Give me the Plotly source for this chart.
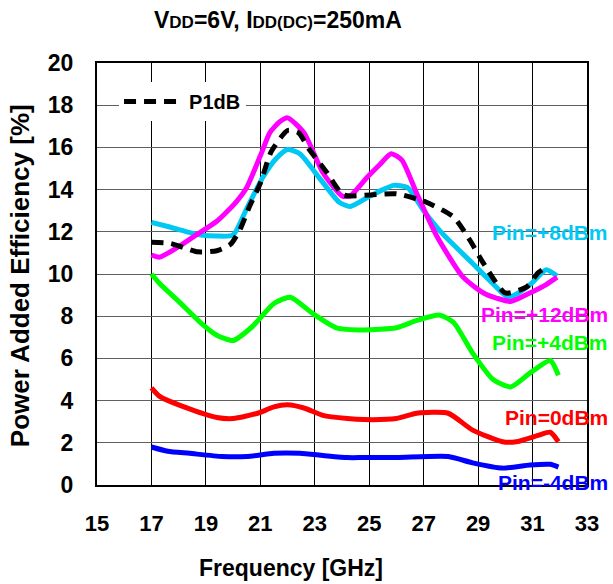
import plotly.graph_objects as go

# ---- data ----
freq_p8 = [17.0, 17.6, 18.3, 18.8, 19.4, 20.0, 20.5, 21.1, 21.6, 22.0, 22.45, 23.2, 23.9, 24.3, 24.9, 25.5, 25.9, 26.4, 27.0, 27.7, 28.8, 29.5, 30.1, 30.6, 31.0, 31.5, 31.9]
pae_p8 = [12.45, 12.25, 12.0, 11.85, 11.8, 11.85, 13.1, 14.6, 15.5, 15.9, 15.7, 14.5, 13.4, 13.2, 13.6, 14.0, 14.2, 14.1, 13.0, 11.9, 10.5, 9.6, 8.9, 9.2, 9.6, 10.2, 9.9]

freq_p12 = [17.0, 17.3, 18.0, 18.7, 19.4, 20.1, 20.5, 21.0, 21.35, 21.7, 22.0, 22.6, 23.3, 24.0, 24.3, 24.9, 25.4, 25.8, 26.2, 26.75, 27.5, 28.45, 29.2, 29.7, 30.2, 30.9, 31.5, 31.9]
pae_p12 = [10.9, 10.8, 11.3, 11.9, 12.5, 13.4, 14.1, 15.6, 16.7, 17.2, 17.4, 16.7, 14.8, 13.7, 13.7, 14.55, 15.2, 15.7, 15.4, 13.8, 11.75, 9.85, 9.1, 8.85, 8.7, 9.1, 9.5, 9.85]

freq_p1db = [17.0, 17.7, 18.3, 18.7, 19.4, 19.9, 20.25, 20.6, 21.0, 21.4, 22.0, 22.4, 22.8, 23.45, 24.05, 25.05, 26.0, 27.1, 28.1, 28.7, 29.2, 30.0, 30.8, 31.2, 31.6]
pae_p1db = [11.5, 11.45, 11.2, 11.05, 11.1, 11.4, 12.1, 13.2, 14.3, 15.8, 16.8, 16.7, 15.9, 14.8, 13.75, 13.75, 13.8, 13.4, 12.7, 11.6, 10.5, 9.1, 9.4, 10.05, 10.4]

freq_p4 = [17.0, 17.3, 18.0, 18.8, 19.4, 20.0, 20.7, 21.5, 22.1, 22.9, 23.8, 24.8, 26.0, 26.75, 27.6, 28.1, 28.8, 29.55, 30.2, 30.9, 31.65, 31.95]
pae_p4 = [10.0, 9.55, 8.7, 7.7, 7.1, 6.85, 7.5, 8.6, 8.9, 8.15, 7.45, 7.35, 7.45, 7.8, 8.05, 7.7, 6.25, 5.0, 4.65, 5.3, 5.9, 5.2]

freq_0 = [17.0, 17.3, 18.2, 19.4, 20.0, 20.9, 21.5, 22.0, 22.6, 23.3, 24.2, 24.8, 26.0, 26.75, 27.9, 28.8, 29.9, 30.4, 31.2, 31.65, 31.95]
pae_0 = [4.6, 4.2, 3.7, 3.2, 3.15, 3.4, 3.7, 3.8, 3.65, 3.3, 3.15, 3.1, 3.15, 3.4, 3.4, 2.6, 2.05, 2.05, 2.35, 2.5, 2.05]

freq_m4 = [17.0, 17.6, 18.4, 19.6, 20.5, 21.5, 22.45, 23.3, 24.2, 24.8, 26.0, 27.9, 28.8, 29.9, 30.9, 31.65, 31.95]
pae_m4 = [1.8, 1.6, 1.5, 1.35, 1.35, 1.5, 1.5, 1.4, 1.3, 1.3, 1.3, 1.35, 1.05, 0.8, 0.95, 0.98, 0.85]

x_ticks = [15, 17, 19, 21, 23, 25, 27, 29, 31, 33]
y_ticks = [0, 2, 4, 6, 8, 10, 12, 14, 16, 18, 20]

labels = ["Pin=+8dBm", "Pin=+12dBm", "Pin=+4dBm", "Pin=0dBm", "Pin=-4dBm"]
label_y = [11.95, 8.1, 6.75, 3.2, 0.1]

CYAN = "#00C8F5"
MAG = "#FF00FF"
GREEN = "#00FF00"
RED = "#FF0000"
BLUE = "#0000FF"
FONT = "Liberation Sans, Arial, sans-serif"

fig = go.Figure()

def add(x, y, color, name, dash="solid", legend=False, width=5):
    fig.add_trace(go.Scatter(x=x, y=y, mode="lines", name=name,
                             line=dict(color=color, width=width, dash=dash, shape="spline", smoothing=0.6),
                             showlegend=legend))

add(freq_m4, pae_m4, BLUE, "Pin=-4dBm")
add(freq_0, pae_0, RED, "Pin=0dBm")
add(freq_p4, pae_p4, GREEN, "Pin=+4dBm")
add(freq_p8, pae_p8, CYAN, "Pin=+8dBm")
add(freq_p12, pae_p12, MAG, "Pin=+12dBm")
add(freq_p1db, pae_p1db, "black", "<b>P1dB</b>", dash="12px,8px", legend=True, width=5)

colors = [CYAN, MAG, GREEN, RED, BLUE]
for t, yv, c in zip(labels, label_y, colors):
    fig.add_annotation(x=1.047, xref="paper", y=yv, yref="y", text="<b>%s</b>" % t,
                       showarrow=False, xanchor="right", yanchor="middle",
                       font=dict(family=FONT, size=21, color=c))

fig.add_annotation(x=0.369, xref="paper", y=1.102, yref="paper",
                   text="<b>V<span style='font-size:17px'>DD</span>=6V, I<span style='font-size:17px'>DD(DC)</span>=250mA</b>",
                   showarrow=False, xanchor="center", yanchor="middle",
                   font=dict(family=FONT, size=23, color="black"))
fig.add_annotation(x=0.396, xref="paper", y=-0.197, yref="paper",
                   text="<b>Frequency [GHz]</b>", showarrow=False,
                   xanchor="center", yanchor="middle",
                   font=dict(family=FONT, size=23, color="black"))
fig.add_annotation(x=-0.157, xref="paper", y=0.495, yref="paper",
                   text="<b>Power Added Efficiency [%]</b>", showarrow=False,
                   textangle=-90, xanchor="center", yanchor="middle",
                   font=dict(family=FONT, size=26, color="black"))

fig.update_xaxes(range=[15, 33], tickvals=x_ticks, ticktext=["<b>%d</b>" % v for v in x_ticks],
                 showgrid=True, gridcolor="black", gridwidth=1,
                 showline=True, linecolor="black", linewidth=2, mirror=True,
                 zeroline=False, ticks="", ticklabelstandoff=18,
                 tickfont=dict(family=FONT, size=22, color="black"))
fig.update_yaxes(range=[0, 20], tickvals=y_ticks, ticktext=["<b>%d</b>" % v for v in y_ticks],
                 showgrid=True, gridcolor="#606060", gridwidth=1.2,
                 showline=True, linecolor="black", linewidth=2, mirror=True,
                 zeroline=False, ticks="", ticklabelstandoff=17,
                 tickfont=dict(family=FONT, size=23, color="black"))

fig.update_layout(width=613, height=584, plot_bgcolor="white", paper_bgcolor="white",
                  margin=dict(l=97, r=26, t=63, b=99),
                  legend=dict(x=0.045, y=0.955, xanchor="left", yanchor="top",
                              bgcolor="white", borderwidth=0,
                              font=dict(family=FONT, size=20, color="black"),
                              itemwidth=60),
                  showlegend=True)

fig.write_html("out.html")
